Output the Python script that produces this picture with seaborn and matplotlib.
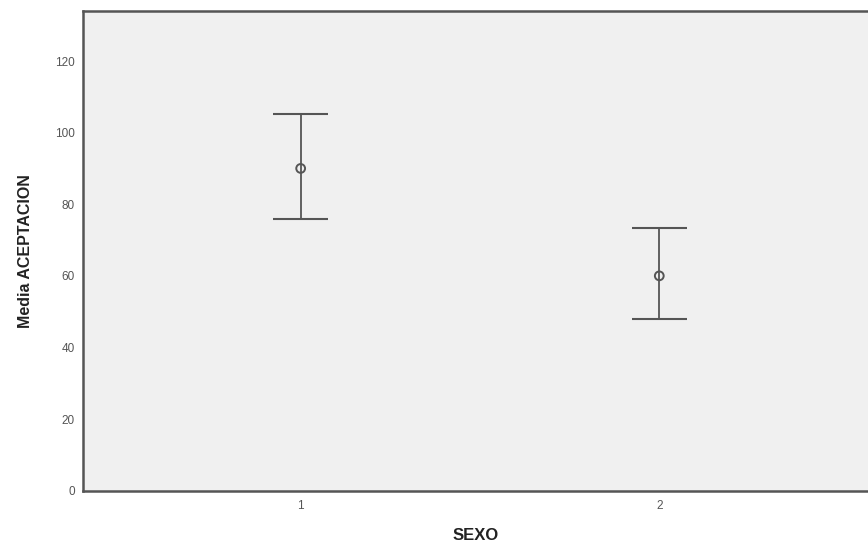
import numpy as np
import pandas as pd
import matplotlib
matplotlib.use("Agg")
import matplotlib.pyplot as plt
import seaborn as sns

# values
sexo = [1, 2]
media = [90.0, 60.0]
ic_inf = [76.0, 48.0]
ic_sup = [105.2, 73.5]
y_ticks = [0, 20, 40, 60, 80, 100, 120]

df = pd.DataFrame({"SEXO": sexo, "media": media, "inf": ic_inf, "sup": ic_sup})

sns.set_style("white")
plt.rcParams['font.family'] = ['Liberation Sans', 'DejaVu Sans']

edge = "#555555"
fig = plt.figure(figsize=(8.68, 5.44), dpi=100)
ax = fig.add_axes([0.0956, 0.098, 0.9044, 0.882])
ax.set_facecolor("#f0f0f0")

# error bars: vertical line plus caps
ax.vlines(df["SEXO"], df["inf"], df["sup"], color=edge, lw=1.3, zorder=2)
ax.hlines(df["sup"], df["SEXO"] - 0.076, df["SEXO"] + 0.076, color=edge, lw=1.5, zorder=2)
ax.hlines(df["inf"], df["SEXO"] - 0.076, df["SEXO"] + 0.076, color=edge, lw=1.5, zorder=2)

sns.scatterplot(data=df, x="SEXO", y="media", ax=ax, marker="o", s=40,
                facecolor="none", edgecolor=edge, linewidth=1.4, zorder=3)

ax.set_xlim(0.393, 2.582)
ax.set_ylim(0, 134)
ax.set_xticks(sexo)
ax.set_xticklabels([str(s) for s in sexo])
ax.set_yticks(y_ticks)

for side in ["left", "bottom", "top"]:
    ax.spines[side].set_color(edge)
    ax.spines[side].set_linewidth(1.8)
ax.spines["right"].set_visible(False)

ax.tick_params(axis="both", which="both", length=5, width=1.6, color=edge,
               labelsize=8.5, labelcolor="#555555", direction="out")
ax.tick_params(axis="y", pad=1)
ax.tick_params(axis="x", pad=2)

ax.set_xlabel("SEXO", fontsize=12, fontweight="bold", color="#222222", labelpad=11)
ax.set_ylabel("Media ACEPTACION", fontsize=11.5, fontweight="bold", color="#222222", labelpad=16)

fig.savefig("out.png", dpi=100)
